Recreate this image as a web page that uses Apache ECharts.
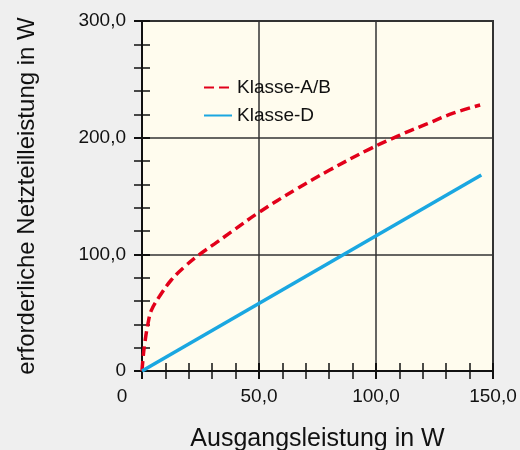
<!DOCTYPE html>
<html>
<head>
<meta charset="utf-8">
<script src="https://cdn.jsdelivr.net/npm/echarts@6/dist/echarts.min.js"></script>
<style>
  html, body { margin: 0; padding: 0; background: #efefef; }
  #chart { width: 520px; height: 450px; }
</style>
</head>
<body>
<div id="chart"></div>
<script>
const seriesNames = ['Klasse-A/B', 'Klasse-D']
const abX = [0, 0.5, 1.2, 2.5, 4, 7.5, 12.5, 18, 24, 31, 38, 50, 66, 80, 97, 110, 122, 133, 144.5]
const abY = [0, 12, 24, 40, 52, 64, 78, 89, 99, 109, 119, 136, 156, 172, 190, 202, 212, 221, 228]
const dX = [0, 145]
const dY = [0, 168]
const xTicks = [0, 50, 100, 150]
const yTicks = [0, 100, 200, 300]

const fmt = v => v === 0 ? '0' : v.toFixed(1).replace('.', ',')
const font = 'Liberation Sans, Arial, sans-serif'
const tickStyle = { color: '#111', width: 2 }

const chart = echarts.init(document.getElementById('chart'))

const axisBase = (ticks, extra) => Object.assign({
  type: 'value',
  min: ticks[0],
  max: ticks[ticks.length - 1],
  interval: ticks[1] - ticks[0],
  axisLine: { show: true, lineStyle: { color: '#111', width: 2 } },
  axisTick: { show: true, length: 8, lineStyle: tickStyle },
  minorTick: { show: true, splitNumber: 5, length: 8, lineStyle: { color: '#111', width: 1.5 } },
  splitLine: { show: true, lineStyle: { color: '#333', width: 1.5 } },
  axisLabel: { show: true, color: '#111', fontSize: 19, fontFamily: font, margin: 16 }
}, extra)

chart.setOption({
  backgroundColor: '#efefef',
  animation: false,
  grid: {
    left: 142, right: 27, top: 21, bottom: 79,
    outerBoundsMode: 'none',
    show: true, backgroundColor: '#fffcee', borderColor: '#333', borderWidth: 2
  },
  legend: {
    orient: 'vertical', left: 198, top: 73,
    itemWidth: 28, itemHeight: 14, itemGap: 9,
    itemStyle: { opacity: 0 },
    textStyle: { color: '#111', fontSize: 19, fontFamily: font },
    data: seriesNames
  },
  xAxis: [
    axisBase(xTicks, {
      position: 'bottom',
      name: 'Ausgangsleistung in W',
      nameLocation: 'middle', nameGap: 56,
      nameTextStyle: { color: '#111', fontSize: 25, fontFamily: font },
      axisLabel: {
        color: '#111', fontSize: 19, fontFamily: font, margin: 16,
        formatter: v => v === 0 ? '{z|0}' : fmt(v),
        rich: { z: { fontSize: 19, fontFamily: font, color: '#111', padding: [0, 40, 0, 0] } }
      }
    }),
    axisBase(xTicks, {
      position: 'bottom',
      axisLine: { show: false },
      axisTick: { show: true, inside: true, length: 8, lineStyle: tickStyle },
      splitLine: { show: false },
      axisLabel: { show: false }
    })
  ],
  yAxis: [
    axisBase(yTicks, {
      position: 'left',
      name: 'erforderliche Netzteilleistung in W',
      nameLocation: 'middle', nameGap: 103, nameRotate: 90,
      nameTextStyle: { color: '#111', fontSize: 24, fontFamily: font },
      axisLabel: { color: '#111', fontSize: 19, fontFamily: font, margin: 16, formatter: fmt }
    }),
    axisBase(yTicks, {
      position: 'left',
      axisLine: { show: false },
      axisTick: { show: true, inside: true, length: 8, lineStyle: tickStyle },
      splitLine: { show: false },
      axisLabel: { show: false }
    })
  ],
  series: [
    {
      name: seriesNames[0], type: 'line', smooth: 0.4, symbol: 'none',
      data: abX.map((x, i) => [x, abY[i]]),
      lineStyle: { color: '#e2001a', width: 3.5, type: [10, 5] },
      itemStyle: { color: '#e2001a' }
    },
    {
      name: seriesNames[1], type: 'line', symbol: 'none',
      data: dX.map((x, i) => [x, dY[i]]),
      lineStyle: { color: '#1aa7e1', width: 3.5 },
      itemStyle: { color: '#1aa7e1' }
    }
  ]
})
</script>
</body>
</html>
